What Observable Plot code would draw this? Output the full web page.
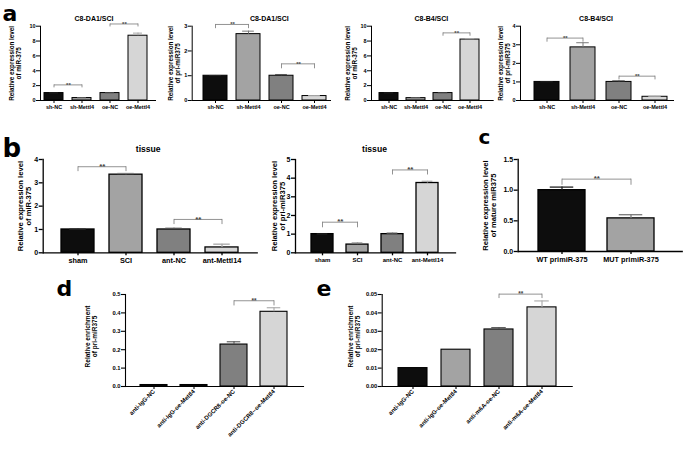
<!DOCTYPE html>
<html><head><meta charset="utf-8">
<script src="https://cdn.jsdelivr.net/npm/d3@7"></script>
<script src="https://cdn.jsdelivr.net/npm/@observablehq/plot@0.6"></script>
<style>
body{margin:0;background:#fff;}
#fig{position:relative;width:685px;height:449px;overflow:hidden;background:#fff;}
#fig svg{position:absolute;left:0;top:0;}
</style></head><body><div id="fig"></div>
<script>
// ---------- data ----------
const aGroups = ["sh-NC", "sh-Mettl4", "oe-NC", "oe-Mettl4"];
const a1Values = [1.0, 0.33, 1.0, 8.72];
const a1Errors = [0.02, 0.03, 0.04, 0.35];
const a1Ticks = [0, 2, 4, 6, 8, 10];
const a1Brackets = [{from: "sh-NC", to: "sh-Mettl4", top: 2.1, low: 1.7}, {from: "oe-NC", to: "oe-Mettl4", top: 10.3, low: 9.9}];

const a2Values = [1.0, 2.68, 1.0, 0.18];
const a2Errors = [0.01, 0.12, 0.05, 0.02];
const a2Ticks = [0, 1, 2, 3];
const a2Brackets = [{from: "sh-NC", to: "sh-Mettl4", top: 3.07, low: 2.9}, {from: "oe-NC", to: "oe-Mettl4", top: 1.48, low: 1.28}];

const a3Values = [1.0, 0.32, 1.0, 8.2];
const a3Errors = [0.02, 0.03, 0.03, 0.12];
const a3Ticks = [0, 2, 4, 6, 8, 10];
const a3Brackets = [{from: "oe-NC", to: "oe-Mettl4", top: 9.1, low: 8.65}];

const a4Values = [1.0, 2.86, 1.0, 0.2];
const a4Errors = [0.01, 0.25, 0.06, 0.02];
const a4Ticks = [0, 1, 2, 3, 4];
const a4Brackets = [{from: "sh-NC", to: "sh-Mettl4", top: 3.36, low: 3.14}, {from: "oe-NC", to: "oe-Mettl4", top: 1.31, low: 1.11}];

const bGroups = ["sham", "SCI", "ant-NC", "ant-Mettl14"];
const b1Values = [1.0, 3.35, 1.0, 0.23];
const b1Errors = [0.01, 0.05, 0.05, 0.14];
const b1Ticks = [0, 1, 2, 3, 4];
const b1Brackets = [{from: "sham", to: "SCI", top: 3.69, low: 3.48}, {from: "ant-NC", to: "ant-Mettl14", top: 1.43, low: 1.21}];

const b2Values = [1.0, 0.44, 1.0, 3.74];
const b2Errors = [0.01, 0.08, 0.05, 0.09];
const b2Ticks = [0, 1, 2, 3, 4, 5];
const b2Brackets = [{from: "sham", to: "SCI", top: 1.64, low: 1.34}, {from: "ant-NC", to: "ant-Mettl14", top: 4.44, low: 4.17}];

const cGroups = ["WT primiR-375", "MUT primiR-375"];
const cValues = [1.0, 0.54];
const cErrors = [0.05, 0.06];
const cTicks = [0, 0.5, 1.0, 1.5];
const cBrackets = [{from: "WT primiR-375", to: "MUT primiR-375", top: 1.18, low: 1.08}];

const dGroups = ["anti-IgG-NC", "anti-IgG-oe-Mettl4", "anti-DGCR8-oe-NC", "anti-DGCR8--oe-Mettl4"];
const dValues = [0.008, 0.008, 0.228, 0.406];
const dErrors = [0, 0, 0.015, 0.022];
const dTicks = [0, 0.1, 0.2, 0.3, 0.4, 0.5];
const dBrackets = [{from: "anti-DGCR8-oe-NC", to: "anti-DGCR8--oe-Mettl4", top: 0.466, low: 0.438}];

const eGroups = ["anti-IgG-NC", "anti-IgG-oe-Mettl4", "anti-m6A-oe-NC", "anti-m6A-oe-Mettl4"];
const eValues = [0.01, 0.02, 0.031, 0.043];
const eErrors = [0, 0, 0.001, 0.0035];
const eTicks = [0, 0.01, 0.02, 0.03, 0.04, 0.05];
const eBrackets = [{from: "anti-m6A-oe-NC", to: "anti-m6A-oe-Mettl4", top: 0.0502, low: 0.0478}];

// ---------- style ----------
const W = 685, H = 449;
const FONT = "'Liberation Sans', Arial, Helvetica, sans-serif";
const BLACK = "#0d0d0d", MID = "#a3a3a3", DARK = "#808080", LIGHT = "#d6d6d6";
const FILL4 = [BLACK, MID, DARK, LIGHT];
const FILLD = [BLACK, BLACK, DARK, LIGHT];
const FILLC = [BLACK, MID];
const ERR = new Map([[BLACK, "#222"], [MID, "#7a7a7a"], [DARK, "#555"], [LIGHT, "#a8a8a8"]]);
const FA = {xtick: 5.5, ytick: 5.5, ytitle: 6.3, title: 7, star: 6, sw: 1, lh: 1.1, tickPad: 1.5};
const FB = {xtick: 7.3, ytick: 7, ytitle: 7.6, title: 8.6, star: 8, sw: 1.3, lh: 1.1, tickPad: 2};
const FB2 = {...FB, xtick: 6};
const FD = {xtick: 6, ytick: 5.8, ytitle: 6.5, title: 7, star: 6.5, sw: 1.1, lh: 1.1, tickPad: 1};

function panel(c) {
  const {groups, values, errors, fills, ticks, fmt, brackets, box, xr, pad, f} = c;
  const [x0, x1, y0, y1] = box;
  const n = groups.length;
  const step = (xr[1] - xr[0]) / (n + pad);
  const bw = step * (1 - pad);
  const rows = groups.map((g, i) => ({g, v: values[i], e: errors[i], fill: fills[i], err: ERR.get(fills[i])}));
  const withErr = rows.filter(d => d.e > 0);
  const idx = g => groups.indexOf(g);
  const ends = brackets.flatMap(b => [{g: b.from, top: b.top, low: b.low}, {g: b.to, top: b.top, low: b.low}]);
  const marks = [
    Plot.barY(rows, {x: "g", y: "v", fill: "fill", stroke: "#000", strokeWidth: f.sw}),
    Plot.ruleX(withErr, {x: "g", y1: "v", y2: d => d.v + d.e, stroke: "err", strokeWidth: f.sw}),
    Plot.tickY(withErr, {x: "g", y: d => d.v + d.e, stroke: "err", strokeWidth: f.sw, insetLeft: bw / 4, insetRight: bw / 4}),
    Plot.frame({anchor: "left", stroke: "#000", strokeWidth: f.sw}),
    Plot.frame({anchor: "bottom", stroke: "#000", strokeWidth: f.sw}),
    Plot.axisY({ticks, tickFormat: d3.format(fmt), tickSize: 4, tickPadding: 1, label: null, fontSize: f.ytick, strokeWidth: f.sw}),
    Plot.axisX({tickSize: 3, tickPadding: f.tickPad, label: null, fontSize: f.xtick, strokeWidth: f.sw, tickRotate: c.rotate ? -45 : 0}),
    Plot.link(brackets, {x1: "from", x2: "to", y1: "top", y2: "top", stroke: "#777", strokeWidth: 0.8}),
    Plot.ruleX(ends, {x: "g", y1: "top", y2: "low", stroke: "#777", strokeWidth: 0.8}),
    ...brackets.map(b => Plot.text([b], {x: "from", y: "top", text: () => "**", dx: (idx(b.to) - idx(b.from)) * step / 2, dy: f.star * 0.28, lineAnchor: "bottom", fontSize: f.star, fill: "#444"})),
    Plot.text([c.ytitle], {frameAnchor: "left", rotate: -90, dx: c.ytx - x0, dy: c.tyDy || 0, text: d => d, textAnchor: "middle", lineAnchor: "middle", lineHeight: f.lh, fontSize: f.ytitle})
  ];
  if (c.title) marks.push(Plot.text([c.title], {frameAnchor: "top", dx: c.titleDx || 0, dy: c.titleY - y0, text: d => d, fontSize: f.title}));
  if (c.letter) marks.push(Plot.text([c.letter.t], {frameAnchor: "top-left", dx: c.letter.x - x0, dy: c.letter.y - y0, text: d => d, textAnchor: "start", lineAnchor: "bottom", fontSize: c.letter.size, fontFamily: "'DejaVu Sans', sans-serif", fontWeight: "bold"}));
  return Plot.plot({
    width: W, height: H,
    marginLeft: x0, marginRight: W - x1, marginTop: y0, marginBottom: H - y1,
    x: {type: "band", domain: groups, range: xr, padding: pad},
    y: {domain: [ticks[0], ticks[ticks.length - 1]]},
    color: {type: "identity"},
    style: {fontFamily: FONT, fontWeight: "bold", background: "transparent", color: "#000"},
    marks
  });
}

const configs = [
  {groups: aGroups, values: a1Values, errors: a1Errors, fills: FILL4, ticks: a1Ticks, fmt: "d", brackets: a1Brackets,
   box: [40, 155, 25.7, 100], xr: [33.7, 157.8], pad: 0.306, f: FA, ytitle: "Relative expression level\nof miR-375", ytx: 15,
   title: "C8-DA1/SCI", titleY: 16, titleDx: -4, letter: {t: "a", x: 2, y: 20.5, size: 22}},
  {groups: aGroups, values: a2Values, errors: a2Errors, fills: FILL4, ticks: a2Ticks, fmt: "d", brackets: a2Brackets,
   box: [191.7, 330, 25.7, 100], xr: [191.3, 336.8], pad: 0.28, f: FA, ytitle: "Relative expression level\nof pri-miR375", ytx: 174,
   title: "C8-DA1/SCI", titleY: 16, titleDx: 8},
  {groups: aGroups, values: a3Values, errors: a3Errors, fills: FILL4, ticks: a3Ticks, fmt: "d", brackets: a3Brackets,
   box: [371, 492.7, 25.7, 100], xr: [370.4, 488.1], pad: 0.305, f: FA, ytitle: "Relative expression level\nof miR-375", ytx: 350.5,
   title: "C8-B4/SCI", titleY: 16, titleDx: -1},
  {groups: aGroups, values: a4Values, errors: a4Errors, fills: FILL4, ticks: a4Ticks, fmt: "d", brackets: a4Brackets,
   box: [520, 673, 25.7, 100], xr: [521.1, 679.1], pad: 0.317, f: FA, ytitle: "Relative expression level\nof pri-miR375", ytx: 504,
   title: "C8-B4/SCI", titleY: 16, titleDx: -1},
  {groups: bGroups, values: b1Values, errors: b1Errors, fills: FILL4, ticks: b1Ticks, fmt: "d", brackets: b1Brackets,
   box: [42.7, 256.7, 159, 252.3], xr: [44.3, 254.7], pad: 0.322, f: FB, ytitle: "Relative expression level\nof miR-375", ytx: 24,
   title: "tissue", titleY: 145, titleDx: -2, letter: {t: "b", x: 2, y: 156, size: 26}},
  {groups: bGroups, values: b2Values, errors: b2Errors, fills: FILL4, ticks: b2Ticks, fmt: "d", brackets: b2Brackets,
   box: [295, 455, 159, 252.3], xr: [297.5, 452.5], pad: 0.366, f: FB2, ytitle: "Relative expression level\nof pri-miR375", ytx: 278,
   title: "tissue", titleY: 145, titleDx: -1},
  {groups: cGroups, values: cValues, errors: cErrors, fills: FILLC, ticks: cTicks, fmt: ".1f", brackets: cBrackets,
   box: [517.7, 681.7, 159, 251], xr: [515.5, 677], pad: 0.324, f: FB, ytitle: "Relative expression level\nof mature miR375", ytx: 489,
   letter: {t: "c", x: 478, y: 143, size: 20}},
  {groups: dGroups, values: dValues, errors: dErrors, fills: FILLD, ticks: dTicks, fmt: ".1f", brackets: dBrackets,
   box: [125, 303, 294, 386], xr: [126.5, 299.5], pad: 0.325, f: FD, ytitle: "Relative enrichment\nof pri-miR375", ytx: 90.5, tyDy: -4, rotate: true,
   letter: {t: "d", x: 56, y: 295, size: 22}},
  {groups: eGroups, values: eValues, errors: eErrors, fills: FILL4, ticks: eTicks, fmt: ".2f", brackets: eBrackets,
   box: [381.7, 571.7, 294, 386], xr: [382.1, 571.4], pad: 0.336, f: FD, ytitle: "Relative enrichment\nof pri-miR375", ytx: 353.5, tyDy: -4, rotate: true,
   letter: {t: "e", x: 316, y: 295, size: 22}}
];

const fig = document.getElementById("fig");
for (const c of configs) fig.append(panel(c));
</script></body></html>
